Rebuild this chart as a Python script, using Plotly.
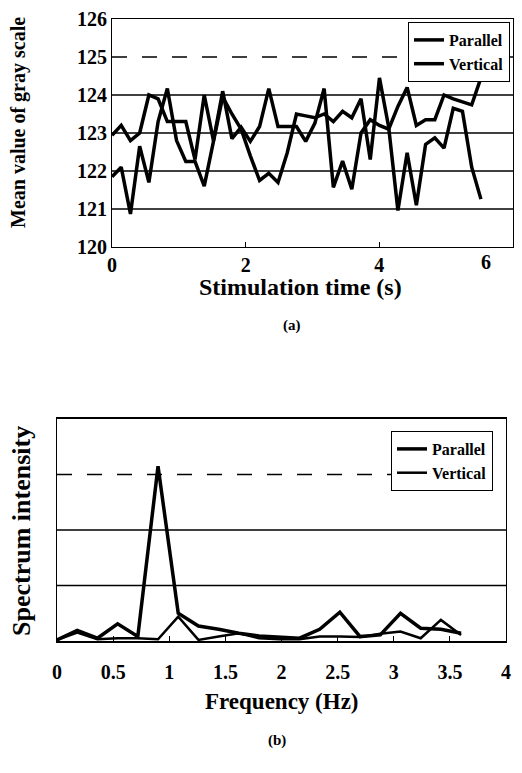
import plotly.graph_objects as go

# ---------------- data (a) ----------------
time_s = [0, 0.138, 0.276, 0.414, 0.552, 0.69, 0.828, 0.966, 1.104, 1.242,
          1.38, 1.518, 1.656, 1.794, 1.932, 2.07, 2.208, 2.346, 2.484, 2.622,
          2.76, 2.898, 3.036, 3.174, 3.312, 3.45, 3.588, 3.726, 3.864, 4.002,
          4.14, 4.278, 4.416, 4.554, 4.692, 4.83, 4.968, 5.106, 5.244, 5.382, 5.52]
gray_parallel = [122.94, 123.2, 122.8, 123.0, 124.0, 123.9, 123.3, 123.3, 123.3, 122.3,
                 124.0, 122.8, 124.1, 122.85, 123.15, 122.78, 123.17, 124.17, 123.17, 123.17,
                 123.17, 122.78, 123.26, 124.17, 121.57, 122.26, 121.52, 123.0, 123.35, 123.2,
                 123.1, 123.7, 124.2, 123.2, 123.35, 123.35, 124.0, 123.9, 123.82, 123.74, 124.45]
gray_vertical = [121.85, 122.1, 120.87, 122.65, 121.7, 123.3, 124.17, 122.8, 122.25, 122.25,
                 121.6, 122.75, 123.95, 123.5, 123.1, 122.4, 121.75, 121.94, 121.7, 122.48,
                 123.5, 123.45, 123.4, 123.5, 123.3, 123.57, 123.4, 123.9, 122.3, 124.45,
                 123.15, 120.96, 122.48, 121.1, 122.7, 122.87, 122.6, 123.65, 123.57, 122.1, 121.26]
a_xticks = [0, 2, 4]
a_xlabels = ["0", "2", "4"]
a_last_xlabel = "6"
a_yticks = [120, 121, 122, 123, 124, 125, 126]
a_grid = [121, 122, 123, 124, 125]

# ---------------- data (b) ----------------
freq_hz = [0, 0.18, 0.36, 0.54, 0.72, 0.9, 1.08, 1.26, 1.44, 1.62,
           1.8, 1.98, 2.16, 2.34, 2.52, 2.7, 2.88, 3.06, 3.24, 3.42, 3.6]
spec_parallel = [0.02, 0.19, 0.05, 0.31, 0.08, 3.15, 0.5, 0.27, 0.21, 0.14,
                 0.09, 0.07, 0.05, 0.21, 0.52, 0.08, 0.11, 0.5, 0.23, 0.21, 0.14]
spec_vertical = [0.02, 0.15, 0.03, 0.05, 0.05, 0.03, 0.44, 0.02, 0.08, 0.14,
                 0.05, 0.03, 0.03, 0.08, 0.08, 0.07, 0.13, 0.17, 0.05, 0.38, 0.11]
b_xticks = [0, 0.5, 1, 1.5, 2, 2.5, 3, 3.5, 4]
b_xlabels = ["0", "0.5", "1", "1.5", "2", "2.5", "3", "3.5", "4"]
b_grid = [1, 2, 3]

# page body has an 8px margin; size the figure so it fits the 522x773 window
OFF = 8
W, H = 522 - OFF, 773 - OFF
SERIF = "Liberation Serif"

def px(x):
    return (x - OFF) / W

def py(y):
    return 1 - (y - OFF) / H

def bold(lst):
    return ["<b>%s</b>" % s for s in lst]

fig = go.Figure()

fig.add_trace(go.Scatter(x=time_s, y=gray_parallel, mode="lines", name="<b>Parallel</b>",
                         line=dict(color="black", width=3.5), xaxis="x", yaxis="y",
                         legend="legend"))
fig.add_trace(go.Scatter(x=time_s, y=gray_vertical, mode="lines", name="<b>Vertical</b>",
                         line=dict(color="black", width=3.5), xaxis="x", yaxis="y",
                         legend="legend"))
fig.add_trace(go.Scatter(x=freq_hz, y=spec_parallel, mode="lines", name="<b>Parallel</b>",
                         line=dict(color="black", width=3.5), xaxis="x2", yaxis="y2",
                         legend="legend2"))
fig.add_trace(go.Scatter(x=freq_hz, y=spec_vertical, mode="lines", name="<b>Vertical</b>",
                         line=dict(color="black", width=2.5), xaxis="x2", yaxis="y2",
                         legend="legend2"))

shapes = []
for g in a_grid:
    shapes.append(dict(type="line", xref="x domain", yref="y", x0=0, x1=1, y0=g, y1=g,
                       line=dict(color="black", width=1.5,
                                 dash="longdash" if g == 125 else "solid"),
                       layer="below"))
for g in b_grid:
    shapes.append(dict(type="line", xref="x2 domain", yref="y2", x0=0, x1=1, y0=g, y1=g,
                       line=dict(color="black", width=1.5,
                                 dash="longdash" if g == 3 else "solid"),
                       layer="below"))

tickfont = dict(family=SERIF, size=20, color="black")

fig.update_layout(
    width=W, height=H,
    margin=dict(l=0, r=0, t=0, b=0, pad=0, autoexpand=False),
    paper_bgcolor="white", plot_bgcolor="white",
    showlegend=True,
    shapes=shapes,
    xaxis=dict(domain=[px(112), px(513)], range=[0, 6], tickvals=a_xticks,
               ticktext=bold(a_xlabels), automargin=False,
               showline=True, mirror=True, linecolor="black", linewidth=1,
               ticks="inside", ticklen=5, tickcolor="black", showgrid=False, zeroline=False,
               tickfont=tickfont, anchor="y"),
    yaxis=dict(domain=[py(247), py(19)], range=[120, 126], tickvals=a_yticks,
               ticktext=bold([str(v) for v in a_yticks]), automargin=False,
               showline=True, mirror=True, linecolor="black", linewidth=1,
               ticks="", showgrid=False, zeroline=False, tickfont=tickfont, anchor="x"),
    xaxis2=dict(domain=[px(57), px(506)], range=[0, 4], tickvals=b_xticks,
                ticktext=bold(b_xlabels), automargin=False, ticklabelstandoff=12,
                showline=True, mirror=True, linecolor="black", linewidth=1.5,
                ticks="inside", ticklen=5, tickcolor="black", showgrid=False, zeroline=False,
                tickfont=dict(family=SERIF, size=20, color="black"), anchor="y2"),
    yaxis2=dict(domain=[py(641), py(419)], range=[0, 4], showticklabels=False,
                automargin=False,
                showline=True, mirror=True, linecolor="black", linewidth=1,
                ticks="", showgrid=False, zeroline=False, anchor="x2"),
    legend=dict(x=px(510), y=py(22), xanchor="right", yanchor="top",
                bgcolor="white", bordercolor="black", borderwidth=1,
                font=dict(family=SERIF, size=16, color="black"),
                itemwidth=30, tracegroupgap=0),
    legend2=dict(x=px(493), y=py(431), xanchor="right", yanchor="top",
                 bgcolor="white", bordercolor="black", borderwidth=1,
                 font=dict(family=SERIF, size=16, color="black"),
                 itemwidth=30, tracegroupgap=0),
    annotations=[
        dict(text="<b>%s</b>" % a_last_xlabel, x=px(486), y=py(262), xref="paper", yref="paper",
             showarrow=False, xanchor="center", yanchor="middle",
             font=dict(family=SERIF, size=20, color="black")),
        dict(text="<b>Mean value of gray scale</b>", x=px(18), y=py(123), xref="paper", yref="paper",
             textangle=-90, showarrow=False, xanchor="center", yanchor="middle",
             font=dict(family=SERIF, size=20, color="black")),
        dict(text="<b>Stimulation time (s)</b>", x=px(300), y=py(287), xref="paper", yref="paper",
             showarrow=False, xanchor="center", yanchor="middle",
             font=dict(family=SERIF, size=24, color="black")),
        dict(text="<b>(a)</b>", x=px(292), y=py(325), xref="paper", yref="paper",
             showarrow=False, xanchor="center", yanchor="middle",
             font=dict(family=SERIF, size=15, color="black")),
        dict(text="<b>Spectrum intensity</b>", x=px(21), y=py(531), xref="paper", yref="paper",
             textangle=-90, showarrow=False, xanchor="center", yanchor="middle",
             font=dict(family=SERIF, size=26, color="black")),
        dict(text="<b>Frequency (Hz)</b>", x=px(282), y=py(701), xref="paper", yref="paper",
             showarrow=False, xanchor="center", yanchor="middle",
             font=dict(family=SERIF, size=23, color="black")),
        dict(text="<b>(b)</b>", x=px(277), y=py(740), xref="paper", yref="paper",
             showarrow=False, xanchor="center", yanchor="middle",
             font=dict(family=SERIF, size=15, color="black")),
    ],
)

fig.write_html("out.html")
